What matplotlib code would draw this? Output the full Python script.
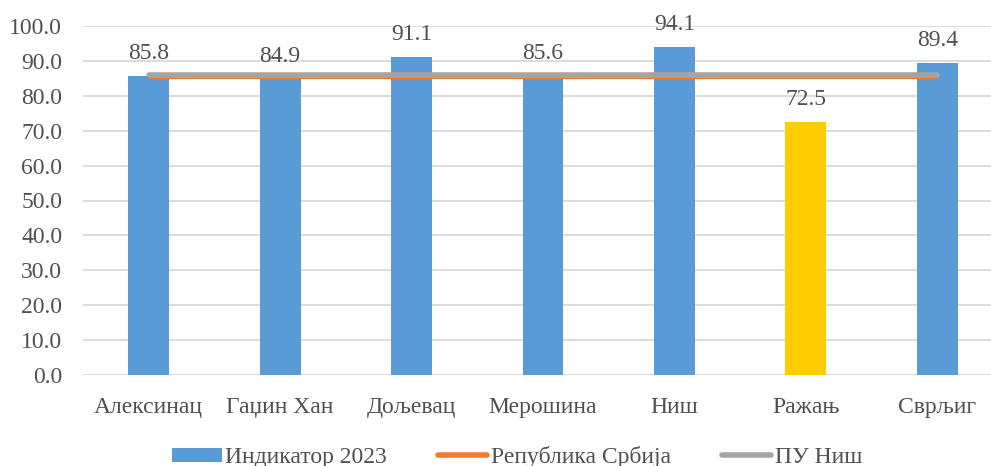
import matplotlib
matplotlib.use("Agg")
import matplotlib.pyplot as plt
from matplotlib.patches import Patch
from matplotlib.lines import Line2D
import numpy as np

categories = ["Алексинац", "Гаџин Хан", "Дољевац", "Мерошина", "Ниш", "Ражањ", "Сврљиг"]
values = [85.8, 84.9, 91.1, 85.6, 94.1, 72.5, 89.4]
bar_colors = ["#5B9BD5", "#5B9BD5", "#5B9BD5", "#5B9BD5", "#5B9BD5", "#FFCC00", "#5B9BD5"]
serbia = [85.3] * 7
pu_nis = [86.1] * 7
yticks = [0, 10, 20, 30, 40, 50, 60, 70, 80, 90, 100]

plt.rcParams['font.family'] = ['Liberation Serif', 'DejaVu Serif']
text_color = "#505050"
fs = 17

W, H = 991, 466
fig = plt.figure(figsize=(W / 100, H / 100), dpi=100)
left_px, right_px = 83, 1003
bottom_px, top_px = 375, 26
ax = fig.add_axes([left_px / W, 1 - bottom_px / H, (right_px - left_px) / W, (bottom_px - top_px) / H])

x = np.arange(len(categories))
ax.bar(x, values, width=0.31, color=bar_colors, zorder=2)
ax.plot(x, serbia, color="#ED7D31", lw=2.4, solid_capstyle="round", zorder=3)
ax.plot(x, pu_nis, color="#A5A5A5", lw=4.0, solid_capstyle="round", zorder=4)

for xi, v in zip(x, values):
    ax.text(xi, v + 3.4, f"{v:.1f}", ha="center", va="bottom", fontsize=fs, color=text_color, zorder=5)

ax.set_xlim(-0.5, len(categories) - 0.5)
ax.set_ylim(0, 100)
ax.set_yticks(yticks)
ax.set_yticklabels([f"{t:.1f}" for t in yticks])
ax.set_xticks(x)
ax.set_xticklabels(categories)
ax.tick_params(axis="both", length=0, labelsize=fs, colors=text_color)
ax.tick_params(axis="x", pad=16)
ax.tick_params(axis="y", pad=15)
ax.grid(axis="y", color="#D9D9D9", lw=1.3, zorder=0)
for s in ax.spines.values():
    s.set_visible(False)

handles = [
    Patch(facecolor="#5B9BD5", label="Индикатор 2023"),
    Line2D([0], [0], color="#ED7D31", lw=4, solid_capstyle="round", label="Република Србија"),
    Line2D([0], [0], color="#A5A5A5", lw=4, solid_capstyle="round", label="ПУ Ниш"),
]
leg = fig.legend(handles=handles, loc="center", bbox_to_anchor=(517 / W, 1 - 457 / H), ncol=3,
                 frameon=False, fontsize=fs, handlelength=2.1, handleheight=0.55,
                 handletextpad=0.15, columnspacing=2.15)
for t in leg.get_texts():
    t.set_color(text_color)

fig.savefig("out.png", dpi=100)
